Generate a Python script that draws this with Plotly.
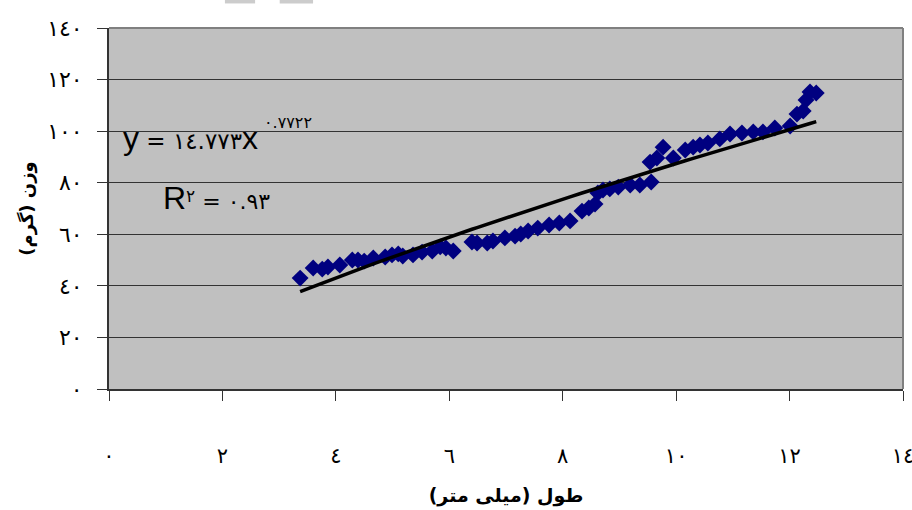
import numpy as np
import plotly.graph_objects as go

# Data (length in mm, weight in g)
length_mm = [3.37, 3.60, 3.76, 3.86, 4.07, 4.29, 4.39, 4.50, 4.66, 4.87,
             4.99, 5.10, 5.18, 5.36, 5.52, 5.70, 5.84, 5.94, 6.07, 6.40,
             6.49, 6.67, 6.77, 6.98, 7.16, 7.26, 7.39, 7.56, 7.76, 7.94,
             8.13, 8.34, 8.46, 8.57, 8.62, 8.71, 8.83, 8.98, 9.19, 9.36,
             9.56, 9.54, 9.66, 9.77, 9.95, 10.16, 10.30, 10.42, 10.56, 10.77,
             10.95, 11.16, 11.36, 11.53, 11.74, 12.01, 12.13, 12.24, 12.29, 12.36,
             12.47]
weight_g = [43.0, 46.9, 46.5, 47.3, 48.1, 50.0, 50.0, 49.6, 50.8, 51.2,
            52.0, 52.4, 51.6, 52.0, 53.1, 53.5, 55.1, 54.7, 53.5, 57.0,
            56.6, 56.6, 57.4, 58.6, 59.3, 60.1, 61.3, 62.4, 63.6, 64.4,
            65.2, 69.0, 70.2, 71.7, 76.0, 77.2, 77.6, 78.3, 79.1, 79.1,
            80.3, 88.0, 89.6, 93.8, 89.6, 92.7, 93.8, 94.6, 95.4, 97.0,
            98.9, 99.3, 99.7, 99.7, 101.2, 102.0, 106.6, 107.8, 112.1, 115.2,
            114.8]

# Power trendline coefficients as displayed on the chart
trend_a = 14.773
trend_b = 0.7722

x_tickvals = [0, 2, 4, 6, 8, 10, 12, 14]
x_ticktext = ["٠", "٢", "٤", "٦", "٨", "١٠", "١٢", "١٤"]
y_tickvals = [0, 20, 40, 60, 80, 100, 120, 140]
y_ticktext = ["٠", "٢٠", "٤٠", "٦٠", "٨٠", "١٠٠", "١٢٠", "١٤٠"]

x_title = "طول (میلی متر)"
y_title = "وزن (گرم)"

trend_x = np.array(sorted(length_mm))
trend_y = trend_a * trend_x ** trend_b

AR_FONT = "DejaVu Sans"
LRM = "\u200e"

fig = go.Figure()
fig.add_trace(go.Scatter(
    x=length_mm, y=weight_g, mode="markers",
    marker=dict(symbol="diamond", size=13, color="#000080",
                line=dict(width=0)),
    showlegend=False, hoverinfo="x+y"))
fig.add_trace(go.Scatter(
    x=trend_x, y=trend_y, mode="lines",
    line=dict(color="black", width=3.5),
    showlegend=False, hoverinfo="skip"))

fig.update_layout(
    width=912, height=510,
    margin=dict(l=109, r=9, t=28, b=121),
    paper_bgcolor="white",
    plot_bgcolor="#C0C0C0",
    font=dict(family=AR_FONT, color="black", size=16),
    xaxis=dict(
        range=[0, 14], tickvals=x_tickvals, ticktext=x_ticktext,
        ticks="outside", ticklen=10, tickcolor="#333333", tickwidth=1,
        showgrid=False, zeroline=False,
        showline=True, linecolor="#333333", linewidth=2,
        ticklabelstandoff=37, automargin=False, ticklabeloverflow="allow",
        tickfont=dict(family=AR_FONT, size=21),
        title=dict(text="<b>" + x_title + "</b>", font=dict(family=AR_FONT, size=19),
                   standoff=21),
    ),
    yaxis=dict(
        range=[0, 140], tickvals=y_tickvals, ticktext=y_ticktext,
        ticks="outside", ticklen=10, tickcolor="#333333", tickwidth=1,
        showgrid=True, gridcolor="#333333", gridwidth=1,
        zeroline=False,
        showline=True, linecolor="#333333", linewidth=2,
        ticklabelstandoff=10, automargin=False, ticklabeloverflow="allow",
        tickfont=dict(family=AR_FONT, size=22),
        title=dict(text="<b>" + y_title + "</b>", font=dict(family=AR_FONT, size=18),
                   standoff=9),
    ),
    shapes=[
        dict(type="line", xref="paper", yref="paper", x0=0, x1=1, y0=1, y1=1,
             line=dict(color="#808080", width=2), layer="above"),
        dict(type="line", xref="paper", yref="paper", x0=1, x1=1, y0=0, y1=1,
             line=dict(color="#808080", width=2), layer="above"),
        dict(type="rect", xref="paper", yref="paper", x0=0.146, x1=0.184,
             y0=1.068, y1=1.08, line=dict(width=0), fillcolor="#cccccc"),
        dict(type="rect", xref="paper", yref="paper", x0=0.215, x1=0.257,
             y0=1.068, y1=1.08, line=dict(width=0), fillcolor="#cccccc"),
    ],
    annotations=[
        dict(xref="paper", yref="paper", x=0.015, y=0.695, xanchor="left", yanchor="middle",
             showarrow=False,
             text="<span style='font-family:Liberation Sans;font-size:32px'>y</span>"
                  "<span style='font-size:23px'> = ١٤.٧٧٣</span>"
                  "<span style='font-family:Liberation Sans;font-size:32px'>x</span>"),
        dict(xref="paper", yref="paper", x=0.193, y=0.737, xanchor="left", yanchor="middle",
             showarrow=False, font=dict(size=16),
             text="٠.٧٧٢٢"),
        dict(xref="paper", yref="paper", x=0.066, y=0.53, xanchor="left", yanchor="middle",
             showarrow=False,
             text="<span style='font-family:Liberation Sans;font-size:32px'>R</span>"
                  "<sup><span style='font-size:17px'>٢" + LRM + "</span></sup>"
                  "<span style='font-size:22px'>" + LRM + " = ٠.٩٣</span>"),
    ],
)

fig.write_html("out.html", config={"displayModeBar": False},
               post_script="document.body.style.margin='0';")
